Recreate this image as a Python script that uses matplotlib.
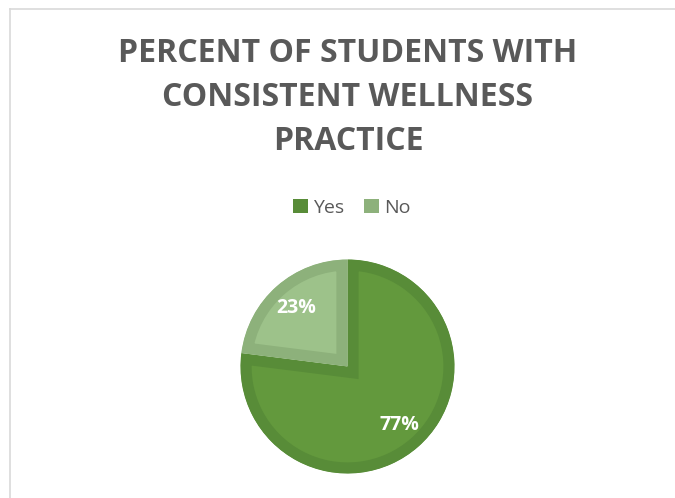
import matplotlib
matplotlib.use("Agg")
import matplotlib.pyplot as plt
from matplotlib.patches import Patch, Wedge
from matplotlib.lines import Line2D

categories = ["Yes", "No"]
values = [77, 23]
title_lines = ["PERCENT OF STUDENTS WITH", "CONSISTENT WELLNESS", "PRACTICE"]

fill_colors = ["#63993d", "#9dc28a"]
edge_colors = ["#588c38", "#8db17b"]

W, H = 675, 498
fig = plt.figure(figsize=(W / 100, H / 100), dpi=100)
fig.patch.set_facecolor("white")

ax = fig.add_axes([0, 0, 1, 1])
cx, cy, r = 347.5, H - 366.5, 107

wedges, texts, autotexts = ax.pie(
    values, startangle=90, counterclock=False, center=(cx, cy), radius=r,
    colors=fill_colors, autopct="%1.0f%%", pctdistance=0.73,
    wedgeprops=dict(linewidth=16, joinstyle="miter"),
    textprops=dict(color="white", fontsize=14, fontweight="bold", family="Open Sans"),
)
ax.set_xlim(0, W)
ax.set_ylim(0, H)
ax.set_aspect("equal")
ax.axis("off")

for w, ec in zip(wedges, edge_colors):
    w.set_edgecolor(ec)
    clip = Wedge(w.center, w.r, w.theta1, w.theta2, transform=ax.transData)
    w.set_clip_on(True)
    w.set_clip_path(clip)

# title
for i, line in enumerate(title_lines):
    fig.text(348 / W, 1 - (53 + 44.5 * i) / H, line, ha="center", va="center",
             fontsize=23, fontweight="bold", color="#595959", family="Open Sans")

handles = [Patch(facecolor=c, edgecolor="none") for c in edge_colors]
fig.legend(handles, categories, loc="center", bbox_to_anchor=(352 / W, 1 - 208 / H),
           ncol=2, frameon=False, handlelength=0.75, handleheight=0.75,
           handletextpad=0.3, columnspacing=1.0,
           prop=dict(family="Open Sans", size=14), labelcolor="#595959")

# chart area border (top and left visible)
fig.add_artist(Line2D([10 / W, 1], [1 - 9 / H, 1 - 9 / H], color="#d9d9d9", lw=1.2, transform=fig.transFigure))
fig.add_artist(Line2D([10 / W, 10 / W], [0, 1 - 9 / H], color="#d9d9d9", lw=1.2, transform=fig.transFigure))

fig.savefig("out.png", dpi=100)
